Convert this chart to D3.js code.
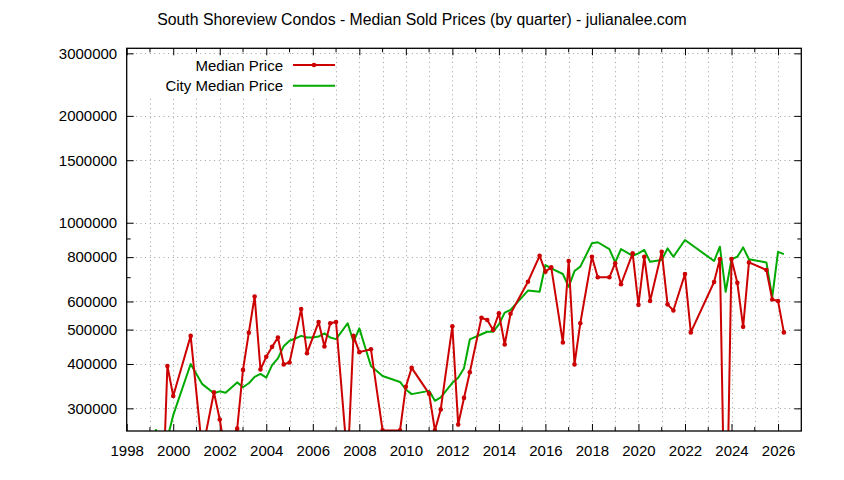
<!DOCTYPE html>
<html>
<head>
<meta charset="utf-8">
<script src="https://cdnjs.cloudflare.com/ajax/libs/d3/7.8.5/d3.min.js"></script>
<style>
  body { margin: 0; background: #fff; }
  svg { display: block; font-family: "Liberation Sans", Arial, sans-serif; }
</style>
</head>
<body>
<svg width="844" height="480"></svg>
<script>
// quarterly median sold prices
let medianDates = [1999.5, 1999.75, 2000.0, 2000.75, 2001.25, 2001.75, 2002.0, 2002.25, 2002.75,
    2003.0, 2003.25, 2003.5, 2003.75, 2004.0, 2004.25, 2004.5, 2004.75, 2005.0, 2005.5, 2005.75,
    2006.25, 2006.5, 2006.75, 2007.0, 2007.5, 2007.75, 2008.0, 2008.5, 2009.0, 2009.75,
    2010.0, 2010.25, 2011.0, 2011.25, 2011.5, 2012.0, 2012.25, 2012.5, 2012.75,
    2013.25, 2013.5, 2013.75, 2014.0, 2014.25, 2014.5, 2015.25, 2015.75, 2016.0, 2016.25, 2016.75,
    2017.0, 2017.25, 2017.5, 2018.0, 2018.25, 2018.75, 2019.0, 2019.25, 2019.75,
    2020.0, 2020.25, 2020.5, 2021.0, 2021.25, 2021.5, 2022.0, 2022.25, 2023.25, 2023.5, 2023.75,
    2024.0, 2024.25, 2024.5, 2024.75, 2025.5, 2025.75, 2026.0, 2026.25]
let medianPrices = [136000, 395000, 325000, 480000, 227000, 333000, 279000, 223000, 263000,
    385000, 490000, 620000, 386000, 419000, 447000, 475000, 399000, 404000, 571000, 429000,
    525000, 448000, 521000, 525000, 210000, 480000, 432000, 440000, 260000, 260000,
    345000, 390000, 330000, 260000, 298000, 511000, 270000, 321000, 379000,
    540000, 532000, 499000, 556000, 454000, 554000, 682000, 807000, 728000, 749000, 460000,
    780000, 399000, 521000, 802000, 702000, 702000, 769000, 671000, 820000,
    587000, 802000, 602000, 828000, 589000, 566000, 717000, 491000, 681000, 790000, 98000,
    790000, 677000, 509000, 773000, 736000, 608000, 602000, 491000]

let cityDates = [1999.25, 1999.5, 1999.75, 2000.0, 2000.75, 2001.25, 2001.75, 2002.0, 2002.25, 2002.75,
    2003.0, 2003.25, 2003.5, 2003.75, 2004.0, 2004.25, 2004.5, 2004.75, 2005.0, 2005.25, 2005.5, 2005.75,
    2006.0, 2006.25, 2006.5, 2006.75, 2007.0, 2007.5, 2007.75, 2008.0, 2008.5, 2009.0, 2009.75,
    2010.0, 2010.25, 2011.0, 2011.25, 2011.5, 2012.0, 2012.25, 2012.5, 2012.75,
    2013.25, 2013.5, 2013.75, 2014.0, 2014.25, 2014.5, 2015.25, 2015.75, 2016.0, 2016.25, 2016.75,
    2017.0, 2017.25, 2017.5, 2018.0, 2018.25, 2018.75, 2019.0, 2019.25, 2019.75,
    2020.0, 2020.25, 2020.5, 2021.0, 2021.25, 2021.5, 2022.0, 2023.25, 2023.5, 2023.75,
    2024.0, 2024.25, 2024.5, 2024.75, 2025.5, 2025.75, 2026.0, 2026.25]
let cityPrices = [262000, 200000, 247000, 287000, 400000, 351000, 331000, 335000, 332000, 355000,
    344000, 353000, 368000, 375000, 366000, 397000, 415000, 449000, 465000, 472000, 480000, 475000,
    475000, 478000, 488000, 475000, 470000, 521000, 462000, 504000, 395000, 370000, 356000,
    339000, 329000, 336000, 315000, 322000, 354000, 366000, 389000, 469000,
    485000, 493000, 493000, 517000, 558000, 568000, 644000, 639000, 760000, 744000, 717000,
    660000, 731000, 752000, 875000, 881000, 843000, 773000, 843000, 807000,
    820000, 838000, 776000, 785000, 847000, 802000, 894000, 780000, 856000, 639000,
    790000, 802000, 852000, 789000, 773000, 616000, 828000, 816000]

let yTickValues = [300000, 400000, 500000, 600000, 800000, 1000000, 1500000, 2000000, 3000000]
let yMinorValues = [700000, 900000]
let xTickYears = d3.range(1998, 2027, 2)
let xMinorYears = d3.range(1999, 2027, 2)

let redColor = "#cc0000"
let greenColor = "#00aa00"

var svg = d3.select("svg"),
    width = +svg.attr("width"),
    height = +svg.attr("height"),
    margin = { top: 48.3, right: 42.7, bottom: 49, left: 126.7 }

let x = d3.scaleLinear().domain([1998, 2027]).range([margin.left, width - margin.right])
let y = d3.scaleLog().domain([259000, 3100000]).range([height - margin.bottom, margin.top])

let plotLeft = x.range()[0], plotRight = x.range()[1], plotTop = y.range()[1], plotBottom = y.range()[0]

svg.append("defs").append("clipPath").attr("id", "plot")
    .append("rect").attr("x", plotLeft).attr("y", plotTop)
    .attr("width", plotRight - plotLeft).attr("height", plotBottom - plotTop)

// grid
let grid = svg.append("g").attr("stroke", "#a0a0a0").attr("stroke-width", 1)
    .attr("stroke-dasharray", "1,3.6")
grid.selectAll(".gx").data(xTickYears.concat(xMinorYears).filter(d => d > 1998)).enter().append("line")
    .attr("x1", d => Math.round(x(d)) + 0.5).attr("x2", d => Math.round(x(d)) + 0.5)
    .attr("y1", plotTop).attr("y2", plotBottom)
grid.selectAll(".gy").data(yTickValues).enter().append("line")
    .attr("x1", plotLeft).attr("x2", plotRight)
    .attr("y1", d => Math.round(y(d)) + 0.5).attr("y2", d => Math.round(y(d)) + 0.5)

// key background hides the grid behind it
svg.append("rect").attr("x", plotLeft + 1).attr("y", 56).attr("width", 208).attr("height", 40).attr("fill", "#fff")

// axes: gnuplot style, ticks inward and mirrored
let axisBottom = d3.axisBottom(x).tickValues(xTickYears).tickFormat(d3.format("d")).tickSizeInner(-7).tickSizeOuter(0).tickPadding(14)
let axisTop = d3.axisTop(x).tickValues(xTickYears).tickFormat("").tickSizeInner(-7).tickSizeOuter(0)
let axisLeft = d3.axisLeft(y).tickValues(yTickValues).tickFormat(d3.format("d")).tickSizeInner(-7).tickSizeOuter(0).tickPadding(9.5)
let axisRight = d3.axisRight(y).tickValues(yTickValues).tickFormat("").tickSizeInner(-7).tickSizeOuter(0)

function styleAxis(g) {
    g.select(".domain").remove()
    g.selectAll("line").attr("stroke", "#000")
    g.selectAll("text").attr("font-size", "15px").attr("fill", "#000")
        .attr("font-family", "Liberation Sans, Arial, sans-serif")
}

svg.append("g").attr("transform", "translate(0," + plotBottom + ")").call(axisBottom).call(styleAxis)
svg.append("g").attr("transform", "translate(0," + plotTop + ")").call(axisTop).call(styleAxis)
svg.append("g").attr("transform", "translate(" + plotLeft + ",0)").call(axisLeft).call(styleAxis)
svg.append("g").attr("transform", "translate(" + plotRight + ",0)").call(axisRight).call(styleAxis)

// minor ticks
let minor = svg.append("g").attr("stroke", "#000")
xMinorYears.forEach(function(d) {
    minor.append("line").attr("x1", x(d)).attr("x2", x(d)).attr("y1", plotBottom).attr("y2", plotBottom - 4)
    minor.append("line").attr("x1", x(d)).attr("x2", x(d)).attr("y1", plotTop).attr("y2", plotTop + 4)
})
yMinorValues.forEach(function(d) {
    minor.append("line").attr("x1", plotLeft).attr("x2", plotLeft + 4).attr("y1", y(d)).attr("y2", y(d))
    minor.append("line").attr("x1", plotRight).attr("x2", plotRight - 4).attr("y1", y(d)).attr("y2", y(d))
})

// series
let plot = svg.append("g").attr("clip-path", "url(#plot)")
let line = d3.line().x(d => x(d[0])).y(d => y(d[1]))

let cityData = d3.zip(cityDates, cityPrices)
let medianData = d3.zip(medianDates, medianPrices)

plot.append("path").datum(cityData)
    .attr("d", line).attr("fill", "none").attr("stroke", greenColor)
    .attr("stroke-width", 2).attr("stroke-linejoin", "round")

plot.append("path").datum(medianData)
    .attr("d", line).attr("fill", "none").attr("stroke", redColor)
    .attr("stroke-width", 2).attr("stroke-linejoin", "round")

plot.selectAll(".pt").data(medianData).enter().append("circle")
    .attr("cx", d => x(d[0])).attr("cy", d => y(d[1])).attr("r", 2.3)
    .attr("fill", redColor)

// border
svg.append("rect").attr("x", plotLeft).attr("y", plotTop)
    .attr("width", plotRight - plotLeft).attr("height", plotBottom - plotTop)
    .attr("fill", "none").attr("stroke", "#000").attr("stroke-width", 1.3)

// title
svg.append("text").attr("x", width / 2).attr("y", 25).attr("text-anchor", "middle")
    .attr("font-size", "15.8px").text("South Shoreview Condos - Median Sold Prices (by quarter) - julianalee.com")

// key
let key = svg.append("g").attr("font-size", "15px")
key.append("text").attr("x", 283).attr("y", 70.5).attr("text-anchor", "end").text("Median Price")
key.append("line").attr("x1", 293).attr("x2", 335).attr("y1", 65).attr("y2", 65)
    .attr("stroke", redColor).attr("stroke-width", 2)
key.append("circle").attr("cx", 314).attr("cy", 65).attr("r", 2.3).attr("fill", redColor)
key.append("text").attr("x", 283).attr("y", 91).attr("text-anchor", "end").text("City Median Price")
key.append("line").attr("x1", 293).attr("x2", 335).attr("y1", 85.7).attr("y2", 85.7)
    .attr("stroke", greenColor).attr("stroke-width", 2)
</script>
</body>
</html>
